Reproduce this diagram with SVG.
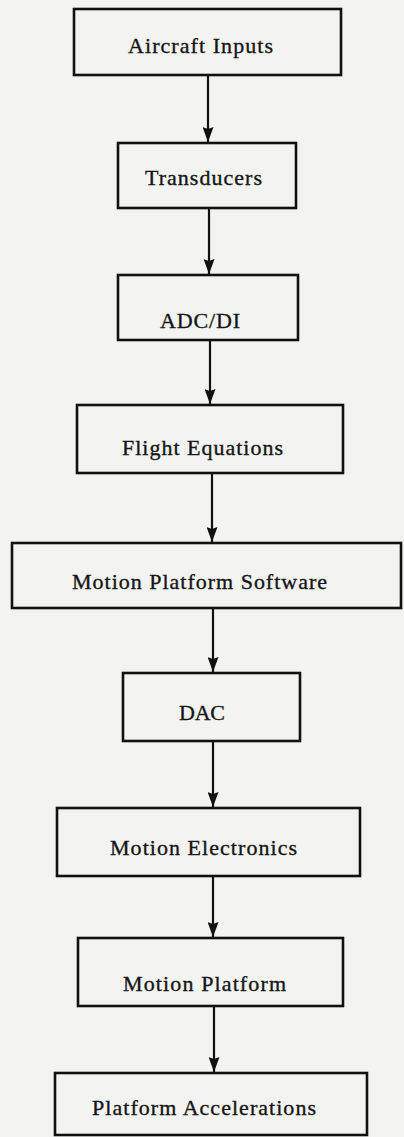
<svg xmlns="http://www.w3.org/2000/svg" width="404" height="1137" viewBox="0 0 404 1137">
<style>
.bg{fill:#f3f3f1}
.box{fill:none;stroke:#111;stroke-width:2.6}
.lbl{font-family:"Liberation Serif","Times New Roman",serif;font-size:22px;fill:#161616;stroke:#161616;stroke-width:0.35;text-anchor:middle}
.conn{stroke:#111;stroke-width:2.2;fill:none;marker-end:url(#ah)}
</style>
<defs>
<marker id="ah" markerWidth="15" markerHeight="11" refX="15" refY="5.5" orient="auto" markerUnits="userSpaceOnUse" viewBox="0 0 15 11">
<path d="M0,0 L15,5.5 L0,11 L2,5.5 Z" fill="#111"/>
</marker>
</defs>
<rect class="bg" x="0" y="0" width="404" height="1137"/>
<g id="connectors">
<line class="conn" x1="208" y1="76" x2="208" y2="142"/>
<line class="conn" x1="209" y1="209" x2="209" y2="274"/>
<line class="conn" x1="210" y1="341" x2="210" y2="404"/>
<line class="conn" x1="212" y1="474" x2="212" y2="542"/>
<line class="conn" x1="213" y1="609" x2="213" y2="672"/>
<line class="conn" x1="213" y1="742" x2="213" y2="807"/>
<line class="conn" x1="213" y1="877" x2="213" y2="937"/>
<line class="conn" x1="214" y1="1007" x2="214" y2="1072"/>
</g>
<g id="aircraft-inputs">
<rect class="box" x="74" y="9" width="267" height="66"/>
<text class="lbl" x="200.5" y="53" textLength="145" lengthAdjust="spacing">Aircraft Inputs</text>
</g>
<g id="transducers">
<rect class="box" x="118" y="143" width="178" height="65"/>
<text class="lbl" x="203.5" y="185" textLength="117" lengthAdjust="spacing">Transducers</text>
</g>
<g id="adc-di">
<rect class="box" x="118" y="275" width="180" height="65"/>
<text class="lbl" x="200" y="328" textLength="80" lengthAdjust="spacing">ADC/DI</text>
</g>
<g id="flight-equations">
<rect class="box" x="77" y="405" width="266" height="68"/>
<text class="lbl" x="202.5" y="455" textLength="161" lengthAdjust="spacing">Flight Equations</text>
</g>
<g id="motion-platform-software">
<rect class="box" x="12" y="543" width="389" height="65"/>
<text class="lbl" x="199.5" y="589" textLength="255" lengthAdjust="spacing">Motion Platform Software</text>
</g>
<g id="dac">
<rect class="box" x="123" y="673" width="177" height="68"/>
<text class="lbl" x="202" y="720" textLength="46" lengthAdjust="spacing">DAC</text>
</g>
<g id="motion-electronics">
<rect class="box" x="57" y="808" width="303" height="68"/>
<text class="lbl" x="203.5" y="855" textLength="187" lengthAdjust="spacing">Motion Electronics</text>
</g>
<g id="motion-platform">
<rect class="box" x="78" y="938" width="265" height="68"/>
<text class="lbl" x="204.5" y="991" textLength="163" lengthAdjust="spacing">Motion Platform</text>
</g>
<g id="platform-accelerations">
<rect class="box" x="55" y="1073" width="312" height="62"/>
<text class="lbl" x="204" y="1115" textLength="224" lengthAdjust="spacing">Platform Accelerations</text>
</g>
</svg>
